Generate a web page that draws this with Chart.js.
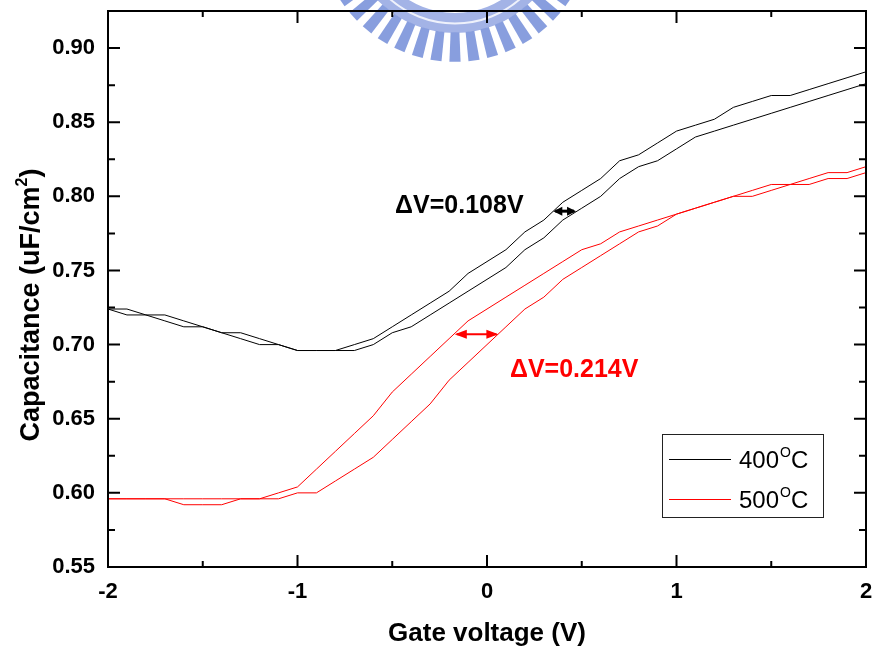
<!DOCTYPE html>
<html>
<head>
<meta charset="utf-8">
<script src="https://cdn.jsdelivr.net/npm/chart.js@4.4.1/dist/chart.umd.min.js"></script>
<style>
html,body{margin:0;padding:0;background:#ffffff;overflow:hidden;}
canvas{display:block;}
</style>
</head>
<body>
<canvas id="chart" width="873" height="649"></canvas>
<script>
// ---------------- data ----------------
const gateVoltage = [-2.0,-1.9,-1.8,-1.7,-1.6,-1.5,-1.4,-1.3,-1.2,-1.1,
                     -1.0,-0.9,-0.8,-0.7,-0.6,-0.5,-0.4,-0.3,-0.2,-0.1,
                      0.0, 0.1, 0.2, 0.3, 0.4, 0.5, 0.6, 0.7, 0.8, 0.9,
                      1.0, 1.1, 1.2, 1.3, 1.4, 1.5, 1.6, 1.7, 1.8, 1.9, 2.0];
const cap400Upper = [0.724,0.724,0.720,0.716,0.712,0.712,0.708,0.704,0.700,0.700,
                     0.696,0.696,0.696,0.700,0.704,0.712,0.720,0.728,0.736,0.748,
                     0.756,0.764,0.776,0.784,0.796,0.804,0.812,0.824,0.828,0.836,
                     0.844,0.848,0.852,0.860,0.864,0.868,0.868,0.872,0.876,0.880,0.884];
const cap400Lower = [0.724,0.720,0.720,0.720,0.716,0.712,0.708,0.708,0.704,0.700,
                     0.696,0.696,0.696,0.696,0.700,0.708,0.712,0.720,0.728,0.736,
                     0.744,0.752,0.764,0.772,0.784,0.792,0.800,0.812,0.820,0.824,
                     0.832,0.840,0.844,0.848,0.852,0.856,0.860,0.864,0.868,0.872,0.876];
const cap500Upper = [0.596,0.596,0.596,0.596,0.592,0.592,0.592,0.596,0.596,0.600,
                     0.604,0.616,0.628,0.640,0.652,0.668,0.680,0.692,0.704,0.716,
                     0.724,0.732,0.740,0.748,0.756,0.764,0.768,0.776,0.780,0.784,
                     0.788,0.792,0.796,0.800,0.804,0.808,0.808,0.812,0.816,0.816,0.820];
const cap500Lower = [0.596,0.596,0.596,0.596,0.596,0.596,0.596,0.596,0.596,0.596,
                     0.600,0.600,0.608,0.616,0.624,0.636,0.648,0.660,0.676,0.688,
                     0.700,0.712,0.724,0.732,0.744,0.752,0.760,0.768,0.776,0.780,
                     0.788,0.792,0.796,0.800,0.800,0.804,0.808,0.808,0.812,0.812,0.816];
const seriesNames = ['400', '500'];
const xTickValues = [-2, -1, 0, 1, 2];
const xMinorTicks = [-1.5, -0.5, 0.5, 1.5];
const yTickValues = [0.55, 0.60, 0.65, 0.70, 0.75, 0.80, 0.85, 0.90];
const yMinorTicks = [0.575, 0.625, 0.675, 0.725, 0.775, 0.825, 0.875];
const shiftTexts = ['\u0394V=0.108V', '\u0394V=0.214V'];
const xTitle = 'Gate voltage (V)';
const yTitle = 'Capacitance (uF/cm';

// annotation anchors (data coordinates)
const shiftArrows = [
  {x1: 0.35, x2: 0.47, y: 0.790, color: '#000000', head: 9, half: 4.5, width: 3},
  {x1: -0.17, x2: 0.06, y: 0.707, color: '#ff0000', head: 12, half: 4.5, width: 2}
];
const shiftTextAnchors = [
  {x: -0.485, y: 0.7887, color: '#000000'},
  {x: 0.121, y: 0.6781, color: '#ff0000'}
];

const FAMILY = '"Liberation Sans", Arial, Helvetica, sans-serif';
const toPts = arr => gateVoltage.map((v, i) => ({x: v, y: arr[i]}));

const lineStyle = {pointRadius: 0, borderWidth: 1, tension: 0, fill: false};

// ---------------- plugins ----------------
const watermark = {
  id: 'watermark',
  beforeDraw(chart) {
    const ctx = chart.ctx;
    const cx = 455, cy = -75.6;
    ctx.save();
    ctx.beginPath();
    ctx.arc(cx, cy, 98.5, 0, Math.PI * 2);
    ctx.strokeStyle = '#a3b3e6';
    ctx.lineWidth = 20;
    ctx.stroke();
    ctx.beginPath();
    ctx.arc(cx, cy, 99, 0, Math.PI * 2);
    ctx.strokeStyle = '#eef1fb';
    ctx.lineWidth = 2;
    ctx.stroke();
    ctx.fillStyle = '#889ede';
    const step = 0.139;
    for (let k = -12; k <= 12; k++) {
      const a = Math.PI / 2 + k * step;
      const r1 = 108, r2 = 137.5;
      const w1 = 4.4 / r1, w2 = 5.6 / r2;
      ctx.beginPath();
      ctx.moveTo(cx + r1 * Math.cos(a - w1), cy + r1 * Math.sin(a - w1));
      ctx.lineTo(cx + r2 * Math.cos(a - w2), cy + r2 * Math.sin(a - w2));
      ctx.lineTo(cx + r2 * Math.cos(a + w2), cy + r2 * Math.sin(a + w2));
      ctx.lineTo(cx + r1 * Math.cos(a + w1), cy + r1 * Math.sin(a + w1));
      ctx.closePath();
      ctx.fill();
    }
    ctx.restore();
  }
};

function arrowHead(ctx, x, y, dir, len, half) {
  ctx.beginPath();
  ctx.moveTo(x, y);
  ctx.lineTo(x - dir * len, y - half);
  ctx.lineTo(x - dir * len, y + half);
  ctx.closePath();
  ctx.fill();
}

const decorations = {
  id: 'decorations',
  afterDraw(chart) {
    const ctx = chart.ctx;
    const a = chart.chartArea;
    const xs = chart.scales.x, ys = chart.scales.y;
    ctx.save();
    ctx.strokeStyle = '#000';
    ctx.lineWidth = 2;
    ctx.strokeRect(a.left, a.top, a.right - a.left, a.bottom - a.top);
    ctx.beginPath();
    xTickValues.forEach(v => {
      const p = xs.getPixelForValue(v);
      ctx.moveTo(p, a.bottom); ctx.lineTo(p, a.bottom - 12);
      ctx.moveTo(p, a.top); ctx.lineTo(p, a.top + 12);
    });
    xMinorTicks.forEach(v => {
      const p = xs.getPixelForValue(v);
      ctx.moveTo(p, a.bottom); ctx.lineTo(p, a.bottom - 6);
      ctx.moveTo(p, a.top); ctx.lineTo(p, a.top + 6);
    });
    yTickValues.forEach(v => {
      const p = ys.getPixelForValue(v);
      ctx.moveTo(a.left, p); ctx.lineTo(a.left + 12, p);
      ctx.moveTo(a.right, p); ctx.lineTo(a.right - 12, p);
    });
    yMinorTicks.forEach(v => {
      const p = ys.getPixelForValue(v);
      ctx.moveTo(a.left, p); ctx.lineTo(a.left + 7, p);
      ctx.moveTo(a.right, p); ctx.lineTo(a.right - 7, p);
    });
    ctx.stroke();

    ctx.fillStyle = '#000';
    ctx.textBaseline = 'alphabetic';
    ctx.font = 'bold 26px ' + FAMILY;
    ctx.textAlign = 'center';
    ctx.fillText(xTitle, (a.left + a.right) / 2, 641);

    ctx.save();
    ctx.translate(39, 305);
    ctx.rotate(-Math.PI / 2);
    ctx.textAlign = 'left';
    const mainFont = 'bold 27px ' + FAMILY, supFont = 'bold 16px ' + FAMILY;
    ctx.font = mainFont; const w1 = ctx.measureText(yTitle).width;
    ctx.font = supFont; const w2 = ctx.measureText('2').width;
    ctx.font = mainFont; const w3 = ctx.measureText(')').width;
    let x0 = -(w1 + w2 + w3) / 2;
    ctx.font = mainFont; ctx.fillText(yTitle, x0, 0);
    ctx.font = supFont; ctx.fillText('2', x0 + w1, -12);
    ctx.font = mainFont; ctx.fillText(')', x0 + w1 + w2, 0);
    ctx.restore();

    ctx.font = 'bold 25px ' + FAMILY;
    ctx.textAlign = 'left';
    shiftTextAnchors.forEach((t, i) => {
      ctx.fillStyle = t.color;
      ctx.fillText(shiftTexts[i], xs.getPixelForValue(t.x), ys.getPixelForValue(t.y));
    });
    shiftArrows.forEach(ar => {
      const p1 = xs.getPixelForValue(ar.x1), p2 = xs.getPixelForValue(ar.x2);
      const py = ys.getPixelForValue(ar.y);
      ctx.strokeStyle = ar.color; ctx.fillStyle = ar.color; ctx.lineWidth = ar.width;
      ctx.beginPath(); ctx.moveTo(p1 + 2, py); ctx.lineTo(p2 - 2, py); ctx.stroke();
      arrowHead(ctx, p1, py, -1, ar.head, ar.half);
      arrowHead(ctx, p2, py, 1, ar.head, ar.half);
    });

    const colors = ['#000000', '#ff0000'];
    ctx.fillStyle = '#ffffff';
    ctx.fillRect(662.5, 434.5, 161, 83);
    ctx.strokeStyle = '#222';
    ctx.lineWidth = 1;
    ctx.strokeRect(662.5, 434.5, 161, 83);
    seriesNames.forEach((name, i) => {
      const ly = 459.5 + i * 40;
      ctx.strokeStyle = colors[i];
      ctx.lineWidth = 1;
      ctx.beginPath(); ctx.moveTo(669, ly); ctx.lineTo(731, ly); ctx.stroke();
      ctx.fillStyle = '#000';
      ctx.font = '24px ' + FAMILY;
      const bx = 739, by = 468 + i * 40;
      ctx.fillText(name, bx, by);
      const wn = ctx.measureText(name).width;
      ctx.font = '14px ' + FAMILY;
      ctx.fillText('O', bx + wn + 1, by - 11);
      const wo = ctx.measureText('O').width;
      ctx.font = '24px ' + FAMILY;
      ctx.fillText('C', bx + wn + wo + 1, by);
    });
    ctx.restore();
  }
};

new Chart(document.getElementById('chart'), {
  type: 'line',
  data: {
    datasets: [
      Object.assign({label: seriesNames[0] + '\u00B0C', data: toPts(cap400Upper), borderColor: '#000000'}, lineStyle),
      Object.assign({label: seriesNames[0] + '\u00B0C', data: toPts(cap400Lower), borderColor: '#000000'}, lineStyle),
      Object.assign({label: seriesNames[1] + '\u00B0C', data: toPts(cap500Upper), borderColor: '#ff0000'}, lineStyle),
      Object.assign({label: seriesNames[1] + '\u00B0C', data: toPts(cap500Lower), borderColor: '#ff0000'}, lineStyle)
    ]
  },
  options: {
    responsive: false,
    animation: false,
    devicePixelRatio: 1,
    layout: {padding: {top: 11, right: 7, left: 0, bottom: 0}},
    plugins: {legend: {display: false}, tooltip: {enabled: false}},
    scales: {
      x: {
        type: 'linear', min: -2, max: 2,
        afterBuildTicks: s => { s.ticks = xTickValues.map(v => ({value: v})); },
        afterFit: s => { s.height = 82; s.paddingLeft = 0; s.paddingRight = 0; },
        grid: {display: false, drawTicks: false, tickLength: 0},
        border: {display: true, color: '#000', width: 2},
        ticks: {color: '#000', font: {family: FAMILY, size: 22, weight: 'bold'}, padding: 12,
                maxRotation: 0, autoSkip: false, callback: v => String(v)}
      },
      y: {
        type: 'linear', min: 0.55, max: 0.925,
        afterBuildTicks: s => { s.ticks = yTickValues.map(v => ({value: v})); },
        afterFit: s => { s.width = 108; s.paddingTop = 0; s.paddingBottom = 0; },
        grid: {display: false, drawTicks: false, tickLength: 0},
        border: {display: true, color: '#000', width: 2},
        ticks: {color: '#000', font: {family: FAMILY, size: 22, weight: 'bold'}, padding: 13,
                autoSkip: false, callback: v => v.toFixed(2)}
      }
    }
  },
  plugins: [watermark, decorations]
});
</script>
</body>
</html>
